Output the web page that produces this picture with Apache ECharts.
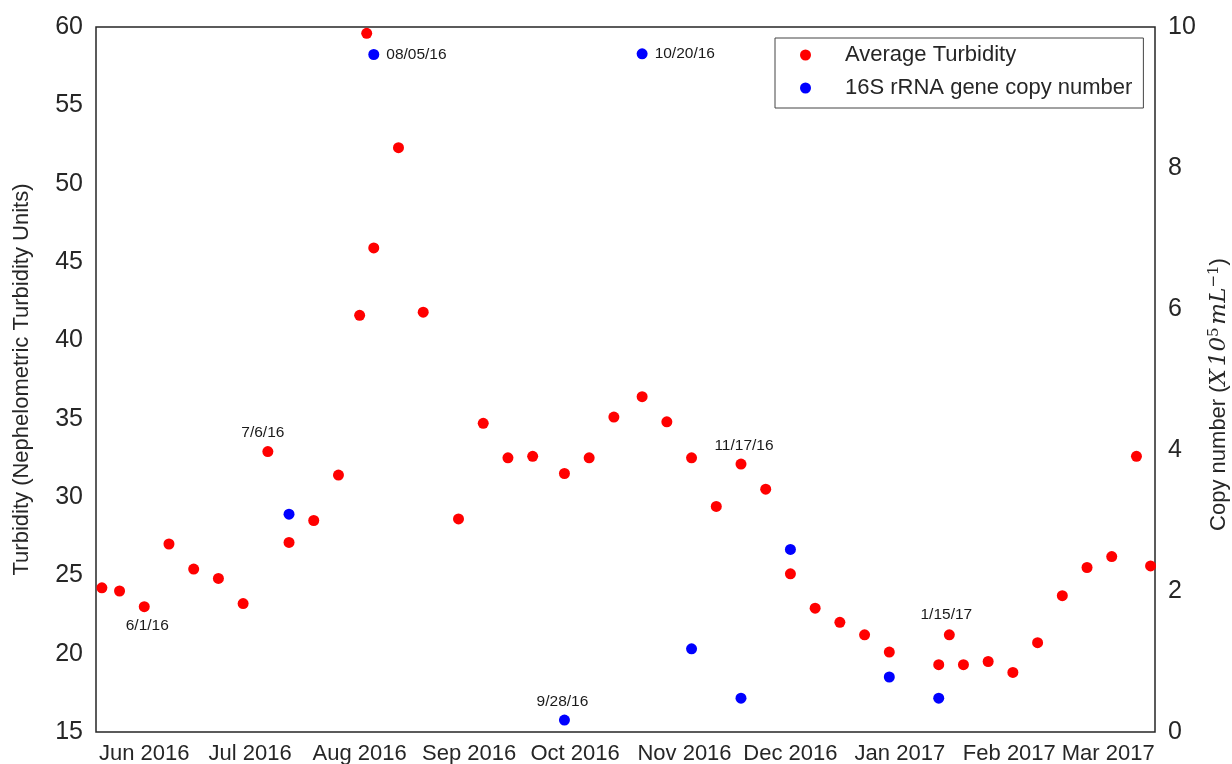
<!DOCTYPE html>
<html>
<head>
<meta charset="utf-8">
<script src="https://cdn.jsdelivr.net/npm/echarts@6/dist/echarts.min.js"></script>
<style>
html,body{margin:0;padding:0;background:#fff;}
#chart{width:1232px;height:764px;}
</style>
</head>
<body>
<div id="chart"></div>
<script>
// ---- data ----
const turbDates = ['2016-05-20','2016-05-25','2016-06-01','2016-06-08','2016-06-15','2016-06-22','2016-06-29',
  '2016-07-06','2016-07-12','2016-07-19','2016-07-26','2016-08-01','2016-08-03','2016-08-05','2016-08-12',
  '2016-08-19','2016-08-29','2016-09-05','2016-09-12','2016-09-19','2016-09-28','2016-10-05','2016-10-12',
  '2016-10-20','2016-10-27','2016-11-03','2016-11-10','2016-11-17','2016-11-24','2016-12-01','2016-12-08',
  '2016-12-15','2016-12-22','2016-12-29','2017-01-12','2017-01-15','2017-01-19','2017-01-26','2017-02-02',
  '2017-02-09','2017-02-16','2017-02-23','2017-03-02','2017-03-09','2017-03-13'];
const turbValues = [24.2, 24.0, 23.0, 27.0, 25.4, 24.8, 23.2,
  32.9, 27.1, 28.5, 31.4, 41.6, 59.6, 45.9, 52.3,
  41.8, 28.6, 34.7, 32.5, 32.6, 31.5, 32.5, 35.1,
  36.4, 34.8, 32.5, 29.4, 32.1, 30.5, 25.1, 22.9,
  22.0, 21.2, 20.1, 19.3, 21.2, 19.3, 19.5, 18.8,
  20.7, 23.7, 25.5, 26.2, 32.6, 25.6];
const copyDates = ['2016-07-12','2016-08-05','2016-09-28','2016-10-20','2016-11-03','2016-11-17','2016-12-01','2016-12-29','2017-01-12'];
const copyValues = [3.09, 9.61, 0.17, 9.62, 1.18, 0.48, 2.59, 0.78, 0.48];
const monthTicks = ['2016-06-01','2016-07-01','2016-08-01','2016-09-01','2016-10-01','2016-11-01','2016-12-01','2017-01-01','2017-02-01','2017-03-01'];
const monthNames = ['Jan','Feb','Mar','Apr','May','Jun','Jul','Aug','Sep','Oct','Nov','Dec'];
const turbTicks = [15, 20, 25, 30, 35, 40, 45, 50, 55, 60];
const copyTicks = [0, 2, 4, 6, 8, 10];
const annotations = [
  {series: 'turb', date: '2016-06-01', text: '6/1/16'},
  {series: 'turb', date: '2016-07-06', text: '7/6/16'},
  {series: 'copy', date: '2016-08-05', text: '08/05/16'},
  {series: 'copy', date: '2016-10-20', text: '10/20/16'},
  {series: 'copy', date: '2016-09-28', text: '9/28/16'},
  {series: 'turb', date: '2016-11-17', text: '11/17/16'},
  {series: 'turb', date: '2017-01-15', text: '1/15/17'}
];
const xRange = ['2016-05-18T08:00:00', '2017-03-14T06:00:00'];

// ---- helpers ----
const toTime = s => +new Date(s.length === 10 ? s + 'T00:00:00' : s);
const labelPlace = {
  '6/1/16': {position: 'bottom', distance: 6, offset: [3, 0]},
  '7/6/16': {position: 'top', distance: 5, offset: [-5, 0]},
  '08/05/16': {position: 'right', distance: 7},
  '10/20/16': {position: 'right', distance: 7},
  '9/28/16': {position: 'top', distance: 5, offset: [-2, 0]},
  '11/17/16': {position: 'top', distance: 5, offset: [3, 0]},
  '1/15/17': {position: 'top', distance: 7, offset: [-3, 0]}
};
function buildData(key, dates, values) {
  return dates.map((d, i) => {
    const item = {value: [toTime(d), values[i]]};
    const a = annotations.find(n => n.series === key && n.date === d);
    if (a) {
      const p = labelPlace[a.text];
      item.label = Object.assign({
        show: true, formatter: a.text, fontSize: 15.5, color: '#1a1a1a',
        fontFamily: 'Liberation Sans, Arial, sans-serif'
      }, p);
    }
    return item;
  });
}

const FONT = 'Liberation Sans, Arial, sans-serif';
const SERIF = 'DejaVu Serif, Liberation Serif, serif';
const TXT = '#262626';
const chart = echarts.init(document.getElementById('chart'));
chart.setOption({
  animation: false,
  backgroundColor: '#fff',
  grid: {left: 96, right: 77, top: 27, bottom: 32, show: true, borderColor: '#262626', borderWidth: 1.5,
         containLabel: false, outerBoundsMode: 'none'},
  legend: {
    left: 775, top: 38, orient: 'vertical',
    itemWidth: 11, itemHeight: 11, itemGap: 11,
    padding: [6, 11, 9, 25],
    borderColor: '#444', borderWidth: 1, backgroundColor: '#fff',
    icon: 'circle',
    textStyle: {fontSize: 22, lineHeight: 22, color: TXT, fontFamily: FONT, padding: [0, 0, 0, 29]},
    data: ['Average Turbidity', '16S rRNA gene copy number']
  },
  xAxis: {
    type: 'value',
    min: toTime(xRange[0]), max: toTime(xRange[1]),
    axisLine: {show: false}, axisTick: {show: false}, splitLine: {show: false},
    axisLabel: {
      customValues: monthTicks.map(toTime),
      formatter: v => { const d = new Date(v); return monthNames[d.getMonth()] + ' ' + d.getFullYear(); },
      fontSize: 22, color: TXT, fontFamily: FONT, margin: 11, hideOverlap: false
    }
  },
  yAxis: [{
    type: 'value', position: 'left',
    min: turbTicks[0], max: turbTicks[turbTicks.length - 1], interval: turbTicks[1] - turbTicks[0],
    name: 'Turbidity (Nephelometric Turbidity Units)', nameLocation: 'middle', nameRotate: 90, nameGap: 63,
    nameTextStyle: {fontSize: 22, color: TXT, fontFamily: FONT},
    axisLine: {show: false}, axisTick: {show: false}, splitLine: {show: false},
    axisLabel: {fontSize: 25, color: TXT, fontFamily: FONT, margin: 13}
  }, {
    type: 'value', position: 'right',
    min: copyTicks[0], max: copyTicks[copyTicks.length - 1], interval: copyTicks[1] - copyTicks[0],
    name: '{n|Copy number (}{m|X}{s| }{m|10}{sup|5}{s| }{m|mL}{sup|−1}{n|)}',
    nameLocation: 'middle', nameRotate: 90, nameGap: 47,
    nameTextStyle: {
      fontSize: 22, color: TXT, fontFamily: FONT, padding: [0, 30, 0, 0],
      rich: {
        n: {fontSize: 22, color: TXT, fontFamily: FONT},
        m: {fontSize: 23, color: TXT, fontFamily: SERIF, fontStyle: 'italic'},
        s: {fontSize: 10},
        sup: {fontSize: 15, color: TXT, fontFamily: SERIF, verticalAlign: 'top', padding: [0, 0, 10, 0]}
      }
    },
    axisLine: {show: false}, axisTick: {show: false}, splitLine: {show: false},
    axisLabel: {fontSize: 25, color: TXT, fontFamily: FONT, margin: 13}
  }],
  series: [{
    name: 'Average Turbidity', type: 'scatter', yAxisIndex: 0,
    symbol: 'circle', symbolSize: 11,
    itemStyle: {color: '#ff0000', opacity: 1},
    data: buildData('turb', turbDates, turbValues)
  }, {
    name: '16S rRNA gene copy number', type: 'scatter', yAxisIndex: 1,
    symbol: 'circle', symbolSize: 11,
    itemStyle: {color: '#0000ff', opacity: 1},
    data: buildData('copy', copyDates, copyValues)
  }]
});
</script>
</body>
</html>
